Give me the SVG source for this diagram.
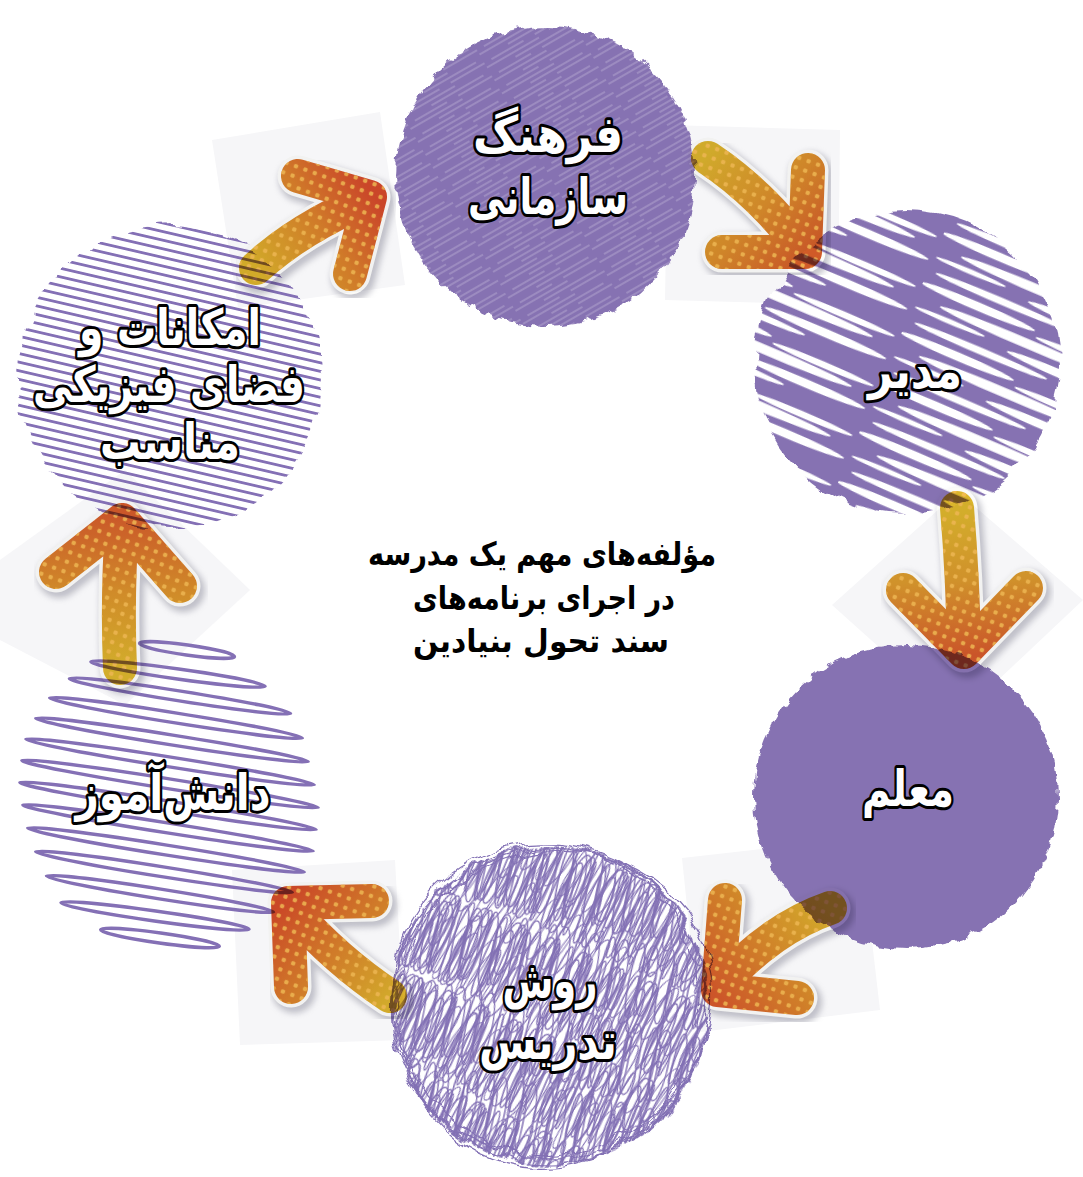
<svg xmlns="http://www.w3.org/2000/svg" xmlns:xlink="http://www.w3.org/1999/xlink" width="1083" height="1177" viewBox="0 0 1083 1177">
<style>
.lbl{font-family:"DejaVu Sans",sans-serif;font-weight:bold;font-size:50px;fill:#fff;stroke:#000;stroke-width:6;stroke-linejoin:round;paint-order:stroke;text-anchor:middle}
.ctr{font-family:"DejaVu Sans",sans-serif;font-weight:bold;font-size:32px;fill:#000;text-anchor:middle}
.tile{fill:#f6f6f8}
.shd{fill:none;stroke:#8e8e9c;stroke-width:44;stroke-linecap:round;stroke-linejoin:round;opacity:.5}
.wht{fill:none;stroke:#fbfbf8;stroke-width:41;stroke-linecap:round;stroke-linejoin:round}
.body{fill:none;stroke-width:34;stroke-linecap:round;stroke-linejoin:round}
.dots{fill:none;stroke:url(#dotpat);stroke-width:34;stroke-linecap:round;stroke-linejoin:round}
.loop{fill:none;stroke:#8470b5;stroke-width:3.4}
</style>
<defs>
<filter id="rough" x="-10%" y="-10%" width="120%" height="120%">
<feTurbulence type="fractalNoise" baseFrequency="0.09" numOctaves="2" seed="3"/>
<feDisplacementMap in="SourceGraphic" scale="10" xChannelSelector="R" yChannelSelector="G"/>
</filter>
<filter id="rough2" x="-10%" y="-10%" width="120%" height="120%">
<feTurbulence type="fractalNoise" baseFrequency="0.04" numOctaves="2" seed="8"/>
<feDisplacementMap in="SourceGraphic" scale="16" xChannelSelector="R" yChannelSelector="G"/>
</filter>
<filter id="blur" x="-20%" y="-20%" width="140%" height="140%"><feGaussianBlur stdDeviation="3"/></filter>
<mask id="m1"><circle cx="546" cy="176" r="150" fill="#fff" filter="url(#rough)"/></mask>
<mask id="m2"><circle cx="907" cy="362" r="152" fill="#fff" filter="url(#rough2)"/></mask>
<mask id="m3"><circle cx="906" cy="797" r="152" fill="#fff" filter="url(#rough)"/></mask>
<mask id="m4"><circle cx="550" cy="1005" r="160" fill="#fff" filter="url(#rough2)"/></mask>
<mask id="m6"><circle cx="170" cy="377" r="152" fill="#fff" filter="url(#rough2)"/></mask>
<pattern id="dotpat" width="10" height="10" patternUnits="userSpaceOnUse" patternTransform="rotate(20)">
<circle cx="5" cy="5" r="2.3" fill="#f7bd55" opacity=".85"/>
</pattern>
<pattern id="streaks" width="97" height="15" patternUnits="userSpaceOnUse" patternTransform="rotate(-30)">
<g stroke="#fff" stroke-width=".8" opacity=".45">
<line x1="0" y1="2" x2="60" y2="2"/>
<line x1="30" y1="7" x2="90" y2="7"/>
<line x1="8" y1="12" x2="45" y2="12"/>
<line x1="58" y1="12" x2="97" y2="12"/>
</g>
</pattern>
<pattern id="thick" width="240" height="54" patternUnits="userSpaceOnUse" patternTransform="rotate(23)">
<rect width="240" height="54" fill="#8672b2"/>
<ellipse cx="60" cy="8" rx="62" ry="4.2" fill="#fff"/>
<ellipse cx="180" cy="14" rx="55" ry="3.2" fill="#fff"/>
<ellipse cx="120" cy="23" rx="95" ry="4.8" fill="#fff"/>
<ellipse cx="40" cy="33" rx="38" ry="2.5" fill="#fff"/>
<ellipse cx="170" cy="38" rx="66" ry="4.2" fill="#fff"/>
<ellipse cx="80" cy="48" rx="72" ry="3.6" fill="#fff"/>
</pattern>
<pattern id="hatch" width="40" height="8.4" patternUnits="userSpaceOnUse" patternTransform="rotate(13)">
<line x1="0" y1="4.2" x2="40" y2="4.2" stroke="#8470b5" stroke-width="2.6"/>
</pattern>
<pattern id="scrA" width="90" height="36" patternUnits="userSpaceOnUse" patternTransform="rotate(-66)">
<g fill="none" stroke="#8270b4" stroke-width="1.4">
<ellipse cx="45" cy="8" rx="43" ry="5"/>
<ellipse cx="40" cy="18" rx="38" ry="7"/>
<ellipse cx="50" cy="27" rx="38" ry="6"/>
<ellipse cx="30" cy="13" rx="26" ry="4"/>
<ellipse cx="60" cy="22" rx="28" ry="8"/>
<ellipse cx="45" cy="31" rx="40" ry="3"/>
</g>
</pattern>
<pattern id="scrB" width="80" height="30" patternUnits="userSpaceOnUse" patternTransform="rotate(-78) translate(13 7)">
<g fill="none" stroke="#8270b4" stroke-width="1.3">
<ellipse cx="40" cy="8" rx="38" ry="6"/>
<ellipse cx="42" cy="20" rx="36" ry="8"/>
<ellipse cx="35" cy="15" rx="30" ry="3"/>
</g>
</pattern>
<pattern id="scrC" width="70" height="28" patternUnits="userSpaceOnUse" patternTransform="rotate(-55) translate(5 11)">
<g fill="none" stroke="#8270b4" stroke-width="1.2">
<ellipse cx="35" cy="9" rx="33" ry="6"/>
<ellipse cx="33" cy="19" rx="31" ry="7"/>
</g>
</pattern>
<linearGradient id="g1" gradientUnits="userSpaceOnUse" x1="255" y1="268" x2="370" y2="190"><stop offset="0" stop-color="#d9b02a"/><stop offset=".55" stop-color="#d8802a"/><stop offset="1" stop-color="#d2482a"/></linearGradient>
<linearGradient id="g2" gradientUnits="userSpaceOnUse" x1="706" y1="156" x2="808" y2="255"><stop offset="0" stop-color="#d8b02c"/><stop offset=".55" stop-color="#d78a2a"/><stop offset="1" stop-color="#d05a28"/></linearGradient>
<linearGradient id="g3" gradientUnits="userSpaceOnUse" x1="958" y1="508" x2="964" y2="655"><stop offset="0" stop-color="#dbb52c"/><stop offset=".5" stop-color="#d8962c"/><stop offset="1" stop-color="#d2582a"/></linearGradient>
<linearGradient id="g4" gradientUnits="userSpaceOnUse" x1="830" y1="908" x2="715" y2="995"><stop offset="0" stop-color="#dab42c"/><stop offset=".5" stop-color="#d8882a"/><stop offset="1" stop-color="#d4582a"/></linearGradient>
<linearGradient id="g5" gradientUnits="userSpaceOnUse" x1="392" y1="998" x2="285" y2="900"><stop offset="0" stop-color="#dab02c"/><stop offset=".5" stop-color="#d8802a"/><stop offset="1" stop-color="#d24a28"/></linearGradient>
<linearGradient id="g6" gradientUnits="userSpaceOnUse" x1="120" y1="670" x2="122" y2="515"><stop offset="0" stop-color="#dab42c"/><stop offset=".5" stop-color="#d8902a"/><stop offset="1" stop-color="#d25a2a"/></linearGradient>
<path id="a1" d="M 256 268 Q 300 228 366 200 M 298 176 L 370 197 L 350 274"/>
<path id="a2" d="M 708 158 Q 762 194 805 252 M 808 170 L 805 252 L 722 252"/>
<path id="a3" d="M 957 508 Q 963 580 964 650 M 903 590 L 964 652 L 1026 588"/>
<path id="a4" d="M 830 908 Q 772 928 720 985 M 725 900 L 718 990 L 797 998"/>
<path id="a5" d="M 390 996 Q 336 960 292 910 M 372 901 L 288 903 L 291 987"/>
<path id="a6" d="M 120 668 Q 117 600 122 522 M 56 572 L 122 520 L 180 586"/>
</defs>

<rect width="1083" height="1177" fill="#fff"/>

<g id="tiles">
<polygon class="tile" points="212,140 380,112 405,285 238,308"/>
<polygon class="tile" points="668,125 840,130 838,305 665,300"/>
<polygon class="tile" points="832,605 958,492 1083,600 958,718"/>
<polygon class="tile" points="682,858 860,838 880,1010 700,1032"/>
<polygon class="tile" points="232,870 395,860 405,1040 240,1045"/>
<polygon class="tile" points="0,560 125,470 250,590 125,705 0,640"/>
</g>

<g id="node-farhang">
<g mask="url(#m1)">
<rect x="380" y="10" width="332" height="332" fill="#8672b2"/>
<rect x="380" y="10" width="332" height="332" fill="url(#streaks)"/>
</g>
<text class="lbl" x="548" y="152" textLength="150" lengthAdjust="spacingAndGlyphs">فرهنگ</text>
<text class="lbl" x="548" y="214" textLength="160" lengthAdjust="spacingAndGlyphs">سازمانی</text>
</g>

<g id="node-modir">
<rect x="740" y="195" width="335" height="335" fill="url(#thick)" mask="url(#m2)"/>
<text class="lbl" x="915" y="388" textLength="94" lengthAdjust="spacingAndGlyphs">مدیر</text>
</g>

<g id="node-moallem">
<rect x="740" y="630" width="335" height="335" fill="#8672b2" mask="url(#m3)"/>
<text class="lbl" x="908" y="806" textLength="92" lengthAdjust="spacingAndGlyphs">معلم</text>
</g>

<g id="node-ravesh">
<g mask="url(#m4)">
<rect x="375" y="830" width="350" height="350" fill="url(#scrA)"/>
<rect x="375" y="830" width="350" height="350" fill="url(#scrB)"/>
<rect x="375" y="830" width="350" height="350" fill="url(#scrC)"/>
</g>
<g fill="none" stroke="#8270b4" stroke-width="1.2" filter="url(#rough2)">
<circle cx="550" cy="1005" r="158"/>
<ellipse cx="552" cy="1003" rx="163" ry="150" transform="rotate(-20 552 1003)"/>
<ellipse cx="548" cy="1008" rx="150" ry="160" transform="rotate(15 548 1008)"/>
<ellipse cx="550" cy="1000" rx="160" ry="155" transform="rotate(40 550 1000)"/>
</g>
<text class="lbl" x="550" y="998" textLength="95" lengthAdjust="spacingAndGlyphs">روش</text>
<text class="lbl" x="548" y="1059" textLength="138" lengthAdjust="spacingAndGlyphs">تدریس</text>
</g>

<g id="node-daneshamooz">
<g class="loop">
<ellipse cx="187" cy="650" rx="48" ry="5" transform="rotate(8 187 650)"/>
<ellipse cx="178" cy="674" rx="88" ry="5" transform="rotate(8 178 674)"/>
<ellipse cx="180" cy="696" rx="112" ry="5" transform="rotate(9 180 696)"/>
<ellipse cx="176" cy="718" rx="128" ry="5" transform="rotate(9 176 718)"/>
<ellipse cx="172" cy="740" rx="138" ry="5" transform="rotate(9 172 740)"/>
<ellipse cx="170" cy="762" rx="146" ry="5" transform="rotate(9 170 762)"/>
<ellipse cx="170" cy="784" rx="150" ry="5" transform="rotate(9 170 784)"/>
<ellipse cx="168" cy="806" rx="150" ry="5" transform="rotate(9 168 806)"/>
<ellipse cx="168" cy="828" rx="147" ry="5" transform="rotate(9 168 828)"/>
<ellipse cx="166" cy="850" rx="140" ry="5" transform="rotate(9 166 850)"/>
<ellipse cx="164" cy="872" rx="130" ry="5" transform="rotate(9 164 872)"/>
<ellipse cx="160" cy="894" rx="115" ry="5" transform="rotate(9 160 894)"/>
<ellipse cx="155" cy="916" rx="95" ry="5" transform="rotate(8 155 916)"/>
<ellipse cx="160" cy="938" rx="60" ry="5" transform="rotate(8 160 938)"/>
</g>
<text class="lbl" x="173" y="810" textLength="195" lengthAdjust="spacingAndGlyphs">دانش&#x200C;آموز</text>
</g>

<g id="node-emkanat">
<rect x="5" y="210" width="330" height="335" fill="url(#hatch)" mask="url(#m6)"/>
<text class="lbl" x="170" y="345" textLength="182" lengthAdjust="spacingAndGlyphs">امکانات و</text>
<text class="lbl" x="169" y="402" textLength="272" lengthAdjust="spacingAndGlyphs">فضای فیزیکی</text>
<text class="lbl" x="170" y="459" textLength="140" lengthAdjust="spacingAndGlyphs">مناسب</text>
</g>

<g id="center-title">
<text class="ctr" x="542" y="565" textLength="348" lengthAdjust="spacingAndGlyphs">مؤلفه&#x200C;های مهم یک مدرسه</text>
<text class="ctr" x="544" y="609" textLength="262" lengthAdjust="spacingAndGlyphs">در اجرای برنامه&#x200C;های</text>
<text class="ctr" x="541" y="652" textLength="256" lengthAdjust="spacingAndGlyphs">سند تحول بنیادین</text>
</g>

<g id="connectors" style="mix-blend-mode:multiply">
<g id="arrow1"><use href="#a1" class="shd" filter="url(#blur)" transform="translate(3 4)"/><use href="#a1" class="wht"/><use href="#a1" class="body" stroke="url(#g1)"/><use href="#a1" class="dots"/></g>
<g id="arrow2"><use href="#a2" class="shd" filter="url(#blur)" transform="translate(3 4)"/><use href="#a2" class="wht"/><use href="#a2" class="body" stroke="url(#g2)"/><use href="#a2" class="dots"/></g>
<g id="arrow3"><use href="#a3" class="shd" filter="url(#blur)" transform="translate(3 4)"/><use href="#a3" class="wht"/><use href="#a3" class="body" stroke="url(#g3)"/><use href="#a3" class="dots"/></g>
<g id="arrow4"><use href="#a4" class="shd" filter="url(#blur)" transform="translate(3 4)"/><use href="#a4" class="wht"/><use href="#a4" class="body" stroke="url(#g4)"/><use href="#a4" class="dots"/></g>
<g id="arrow5"><use href="#a5" class="shd" filter="url(#blur)" transform="translate(3 4)"/><use href="#a5" class="wht"/><use href="#a5" class="body" stroke="url(#g5)"/><use href="#a5" class="dots"/></g>
<g id="arrow6"><use href="#a6" class="shd" filter="url(#blur)" transform="translate(3 4)"/><use href="#a6" class="wht"/><use href="#a6" class="body" stroke="url(#g6)"/><use href="#a6" class="dots"/></g>
</g>
</svg>
